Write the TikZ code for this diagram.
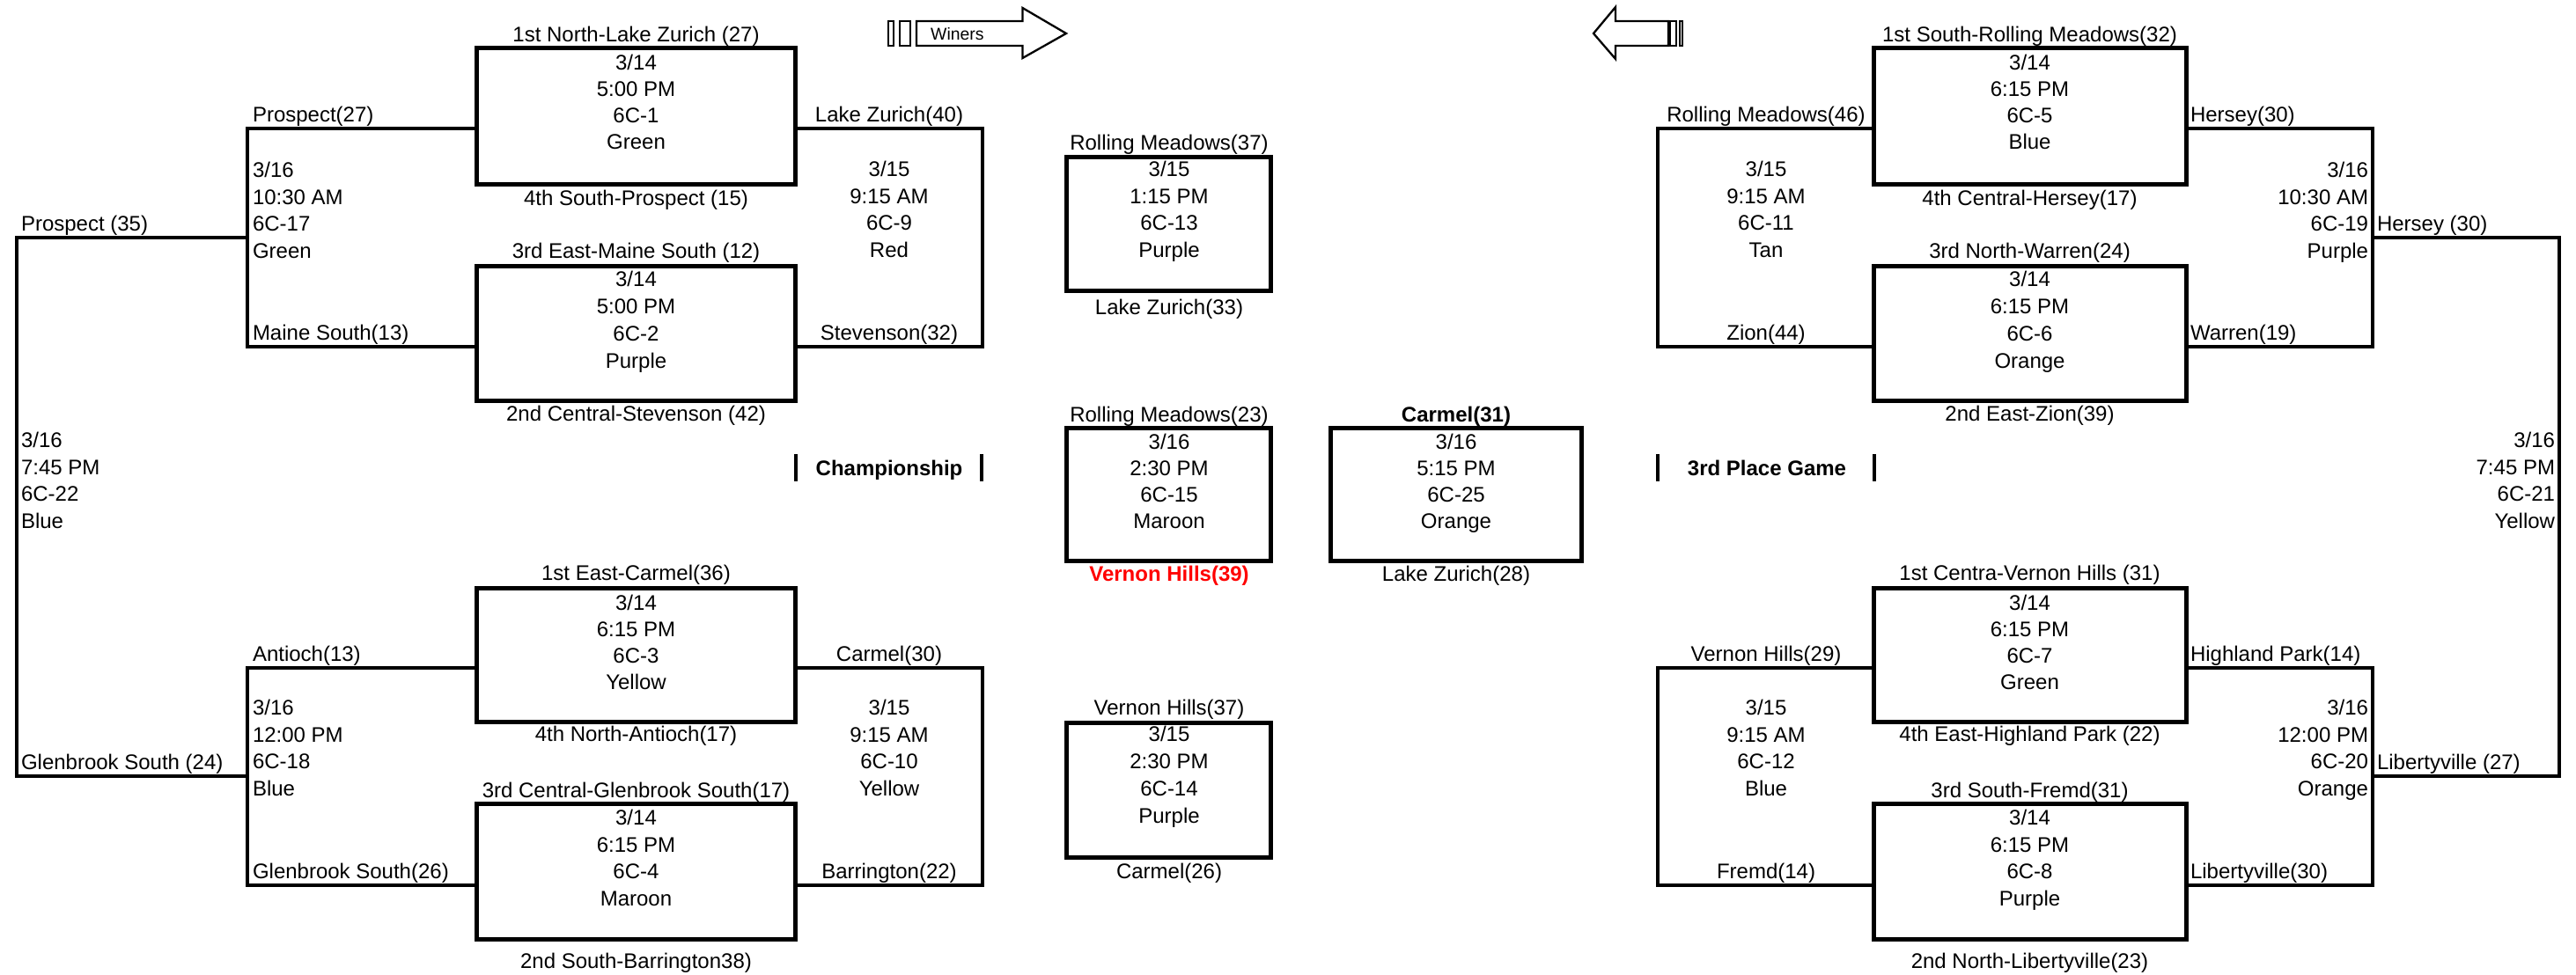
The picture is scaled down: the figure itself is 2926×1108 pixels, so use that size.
\documentclass[tikz,border=0pt]{standalone}
\usepackage{fontspec}
\setmainfont{Liberation Sans}
\tikzset{
  gamebox/.style={draw=black,line width=5pt,rectangle,inner sep=0pt,outer sep=0pt},
  conn/.style={draw=black,line width=4.4pt,line join=miter},
  bar/.style={draw=black,line width=3.8pt},
  arrowline/.style={draw=black,line width=2.3pt,line join=miter,fill=white},
  txt/.style={inner sep=0pt,outer sep=0pt,font=\fontsize{24}{29}\selectfont},
}
% name, anchor, x, centre y, extra options, text
\newcommand{\lab}[6]{\node[txt,anchor=#2,#5] (#1) at (#3,{#4+8.5}) {#6};}
% name, anchor, x, first-row centre y, step, four rows
\newcommand{\rows}[9]{%
  \node[txt,anchor=#2] (#1a) at (#3,{#4+8.5}) {#6};
  \node[txt,anchor=#2] (#1b) at (#3,{#4+#5+8.5}) {#7};
  \node[txt,anchor=#2] (#1c) at (#3,{#4+2*#5+8.5}) {#8};
  \node[txt,anchor=#2] (#1d) at (#3,{#4+3*#5+8.5}) {#9};}
% name, left, top, right, bottom
\newcommand{\gbox}[5]{\node[gamebox,minimum width={(#4-#2)*1pt},minimum height={(#5-#3)*1pt}] (#1) at ({(#2+#4)/2},{(#3+#5)/2}) {};}
\begin{document}
\begin{tikzpicture}[x=1pt,y=-1pt]
\useasboundingbox (0,0) rectangle (2926,1108);
% game boxes
\gbox{g1}{541}{55}{903.5}{209}
\gbox{g2}{541}{302}{903.5}{455}
\gbox{g3}{541}{668}{903.5}{820.5}
\gbox{g4}{541}{913}{903.5}{1067}
\gbox{g5}{2128}{55}{2483}{209}
\gbox{g6}{2128}{302}{2483}{455}
\gbox{g7}{2128}{668}{2483}{820.5}
\gbox{g8}{2128}{913}{2483}{1067}
\gbox{g13}{1211}{178}{1443.5}{330}
\gbox{g15}{1211}{486.5}{1443.5}{637.5}
\gbox{g14}{1211}{821}{1443.5}{974}
\gbox{g25}{1511}{486.5}{1796.5}{637.5}
% bracket corners
\coordinate (c17a) at (281,146); \coordinate (c17b) at (281,394); \coordinate (c17m) at (281,270);
\coordinate (c18a) at (281,759); \coordinate (c18b) at (281,1006); \coordinate (c18m) at (281,882);
\coordinate (c9a) at (1116,146); \coordinate (c9b) at (1116,394);
\coordinate (c10a) at (1116,759); \coordinate (c10b) at (1116,1006);
\coordinate (c11a) at (1883,146); \coordinate (c11b) at (1883,394);
\coordinate (c12a) at (1883,759); \coordinate (c12b) at (1883,1006);
\coordinate (c19a) at (2695,146); \coordinate (c19b) at (2695,394); \coordinate (c19m) at (2695,270);
\coordinate (c20a) at (2695,759); \coordinate (c20b) at (2695,1006); \coordinate (c20m) at (2695,882);
\coordinate (c22a) at (19,270); \coordinate (c22b) at (19,882);
\coordinate (c21a) at (2907,270); \coordinate (c21b) at (2907,882);
% connectors
\draw[conn] (g1.west |- c17a) -- (c17a) -- (c17b) -- (g2.west |- c17b);
\draw[conn] (g3.west |- c18a) -- (c18a) -- (c18b) -- (g4.west |- c18b);
\draw[conn] (g1.east |- c9a) -- (c9a) -- (c9b) -- (g2.east |- c9b);
\draw[conn] (g3.east |- c10a) -- (c10a) -- (c10b) -- (g4.east |- c10b);
\draw[conn] (g5.west |- c11a) -- (c11a) -- (c11b) -- (g6.west |- c11b);
\draw[conn] (g7.west |- c12a) -- (c12a) -- (c12b) -- (g8.west |- c12b);
\draw[conn] (g5.east |- c19a) -- (c19a) -- (c19b) -- (g6.east |- c19b);
\draw[conn] (g7.east |- c20a) -- (c20a) -- (c20b) -- (g8.east |- c20b);
\draw[conn] (c17m) -- (c22a) -- (c22b) -- (c18m);
\draw[conn] (c19m) -- (c21a) -- (c21b) -- (c20m);
% section bars
\coordinate (b1t) at (904,516); \coordinate (b1b) at (904,547);
\coordinate (b2t) at (1115,516); \coordinate (b2b) at (1115,547);
\coordinate (b3t) at (1883,516); \coordinate (b3b) at (1883,547);
\coordinate (b4t) at (2129,516); \coordinate (b4b) at (2129,547);
\draw[bar] (b1t) -- (b1b); \draw[bar] (b2t) -- (b2b);
\draw[bar] (b3t) -- (b3b); \draw[bar] (b4t) -- (b4b);
% winners arrows
\draw[arrowline] (1041,24) -- (1161.5,24) -- (1161.5,9) -- (1211,38) -- (1161.5,66) -- (1161.5,52) -- (1041,52) -- cycle;
\draw[arrowline] (1009,24) rectangle (1015,52);
\draw[arrowline] (1022,24) rectangle (1034,52);
\draw[arrowline] (1895,24) -- (1835,24) -- (1835,8) -- (1810,38) -- (1835,67) -- (1835,52) -- (1895,52) -- cycle;
\draw[arrowline] (1897,24) rectangle (1904,52);
\draw[arrowline] (1908,24) rectangle (1911,52);
\node[inner sep=0pt,anchor=base west,font=\fontsize{19.4}{24}\selectfont] (winers) at (1057,45.5) {Winers};
% first-round labels and rows
\lab{l1t}{base}{722.5}{39}{}{1st North-Lake Zurich (27)}
\rows{r1}{base}{722.5}{71}{30}{3/14}{5:00 PM}{6C-1}{Green}
\lab{l1b}{base}{722.5}{225}{}{4th South-Prospect (15)}
\lab{l2t}{base}{722.5}{285}{}{3rd East-Maine South (12)}
\rows{r2}{base}{722.5}{317}{31}{3/14}{5:00 PM}{6C-2}{Purple}
\lab{l2b}{base}{722.5}{469.5}{}{2nd Central-Stevenson (42)}
\lab{l3t}{base}{722.5}{651}{}{1st East-Carmel(36)}
\rows{r3}{base}{722.5}{685}{30}{3/14}{6:15 PM}{6C-3}{Yellow}
\lab{l3b}{base}{722.5}{834}{}{4th North-Antioch(17)}
\lab{l4t}{base}{722.5}{898}{}{3rd Central-Glenbrook South(17)}
\rows{r4}{base}{722.5}{929}{30.6}{3/14}{6:15 PM}{6C-4}{Maroon}
\lab{l4b}{base}{722.5}{1092}{}{2nd South-Barrington38)}
\lab{l5t}{base}{2305.5}{39}{}{1st South-Rolling Meadows(32)}
\rows{r5}{base}{2305.5}{71}{30}{3/14}{6:15 PM}{6C-5}{Blue}
\lab{l5b}{base}{2305.5}{225}{}{4th Central-Hersey(17)}
\lab{l6t}{base}{2305.5}{285}{}{3rd North-Warren(24)}
\rows{r6}{base}{2305.5}{317}{31}{3/14}{6:15 PM}{6C-6}{Orange}
\lab{l6b}{base}{2305.5}{469.5}{}{2nd East-Zion(39)}
\lab{l7t}{base}{2305.5}{651}{}{1st Centra-Vernon Hills (31)}
\rows{r7}{base}{2305.5}{685}{30}{3/14}{6:15 PM}{6C-7}{Green}
\lab{l7b}{base}{2305.5}{834}{}{4th East-Highland Park (22)}
\lab{l8t}{base}{2305.5}{898}{}{3rd South-Fremd(31)}
\rows{r8}{base}{2305.5}{929}{30.6}{3/14}{6:15 PM}{6C-8}{Purple}
\lab{l8b}{base}{2305.5}{1092}{}{2nd North-Libertyville(23)}
% centre games
\lab{l13t}{base}{1328}{162}{}{Rolling Meadows(37)}
\rows{r13}{base}{1328}{192}{30.6}{3/15}{1:15 PM}{6C-13}{Purple}
\lab{l13b}{base}{1328}{349}{}{Lake Zurich(33)}
\lab{l15t}{base}{1328}{471}{}{Rolling Meadows(23)}
\rows{r15}{base}{1328}{502}{30}{3/16}{2:30 PM}{6C-15}{Maroon}
\lab{l15b}{base}{1328}{652}{text=red,font=\fontsize{24}{29}\selectfont\bfseries}{Vernon Hills(39)}
\lab{l25t}{base}{1654}{471}{font=\fontsize{24}{29}\selectfont\bfseries}{Carmel(31)}
\rows{r25}{base}{1654}{502}{30}{3/16}{5:15 PM}{6C-25}{Orange}
\lab{l25b}{base}{1654}{652}{}{Lake Zurich(28)}
\lab{l14t}{base}{1328}{804}{}{Vernon Hills(37)}
\rows{r14}{base}{1328}{834}{31}{3/15}{2:30 PM}{6C-14}{Purple}
\lab{l14b}{base}{1328}{989.5}{}{Carmel(26)}
\lab{champ}{base}{1010}{532}{font=\fontsize{24}{29}\selectfont\bfseries}{Championship}
\lab{third}{base}{2007}{532}{font=\fontsize{24}{29}\selectfont\bfseries}{3rd Place Game}
% bracket labels and rows, left
\lab{p27}{base west}{287}{130}{}{Prospect(27)}
\lab{ms13}{base west}{287}{378}{}{Maine South(13)}
\rows{r17}{base west}{287}{193}{30.6}{3/16}{10:30 AM}{6C-17}{Green}
\lab{p35}{base west}{24}{254}{}{Prospect (35)}
\lab{an13}{base west}{287}{743}{}{Antioch(13)}
\lab{gs26}{base west}{287}{990}{}{Glenbrook South(26)}
\rows{r18}{base west}{287}{804}{30.6}{3/16}{12:00 PM}{6C-18}{Blue}
\lab{gs24}{base west}{24}{866}{}{Glenbrook South (24)}
\rows{r22}{base west}{24}{500}{30.6}{3/16}{7:45 PM}{6C-22}{Blue}
\lab{lz40}{base}{1010}{130}{}{Lake Zurich(40)}
\lab{st32}{base}{1010}{378}{}{Stevenson(32)}
\rows{r9}{base}{1010}{192}{30.6}{3/15}{9:15 AM}{6C-9}{Red}
\lab{ca30}{base}{1010}{743}{}{Carmel(30)}
\lab{ba22}{base}{1010}{990}{}{Barrington(22)}
\rows{r10}{base}{1010}{804}{30.6}{3/15}{9:15 AM}{6C-10}{Yellow}
% bracket labels and rows, right
\lab{rm46}{base}{2006}{130}{}{Rolling Meadows(46)}
\lab{zi44}{base}{2006}{378}{}{Zion(44)}
\rows{r11}{base}{2006}{192}{30.6}{3/15}{9:15 AM}{6C-11}{Tan}
\lab{vh29}{base}{2006}{743}{}{Vernon Hills(29)}
\lab{fr14}{base}{2006}{990}{}{Fremd(14)}
\rows{r12}{base}{2006}{804}{30.6}{3/15}{9:15 AM}{6C-12}{Blue}
\lab{he30a}{base west}{2488}{130}{}{Hersey(30)}
\lab{wa19}{base west}{2488}{378}{}{Warren(19)}
\rows{r19}{base east}{2690}{193}{30.6}{3/16}{10:30 AM}{6C-19}{Purple}
\lab{he30b}{base west}{2700}{254}{}{Hersey (30)}
\lab{hp14}{base west}{2488}{743}{}{Highland Park(14)}
\lab{li30}{base west}{2488}{990}{}{Libertyville(30)}
\rows{r20}{base east}{2690}{804}{30.6}{3/16}{12:00 PM}{6C-20}{Orange}
\lab{li27}{base west}{2700}{866}{}{Libertyville (27)}
\rows{r21}{base east}{2902}{500}{30.6}{3/16}{7:45 PM}{6C-21}{Yellow}
\end{tikzpicture}
\end{document}
